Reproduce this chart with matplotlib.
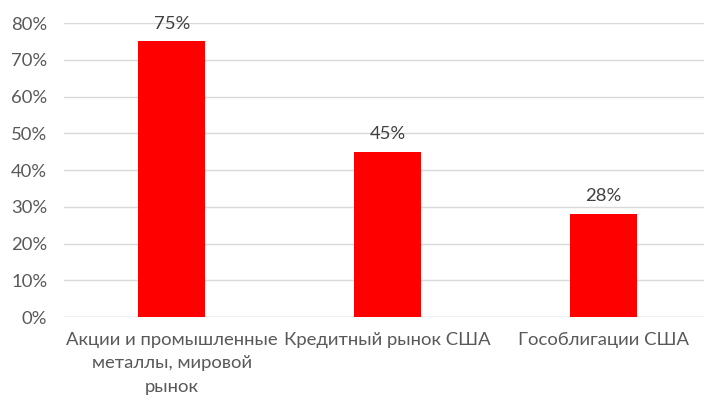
import matplotlib
matplotlib.use("Agg")
import matplotlib.pyplot as plt
from matplotlib.ticker import FuncFormatter

categories = ["Акции и промышленные\nметаллы, мировой\nрынок", "Кредитный рынок США", "Гособлигации США"]
values = [75, 45, 28]
yticks = [0, 10, 20, 30, 40, 50, 60, 70, 80]

plt.rcParams['font.family'] = ['Lato', 'DejaVu Sans']
fig = plt.figure(figsize=(7.04, 4.01), dpi=100)
ax = fig.add_axes([64/704, (401-317)/401, 647/704, (317-23)/401])

x = range(len(categories))
bars = ax.bar(x, values, width=0.31, color="#FF0000", zorder=3)
ax.set_xlim(-0.5, len(categories) - 0.5)
ax.set_ylim(0, 80)
ax.set_yticks(yticks)
ax.yaxis.set_major_formatter(FuncFormatter(lambda v, p: f"{v:.0f}%"))
ax.set_xticks(list(x))
ax.set_xticklabels(categories, fontsize=13.3, color="#595959", linespacing=1.55)
ax.tick_params(axis='y', labelsize=13.3, labelcolor="#595959", length=0, pad=12)
ax.tick_params(axis='x', length=0, pad=11)
ax.grid(axis='y', color="#D9D9D9", linewidth=1, zorder=0)
for s in ax.spines.values():
    s.set_visible(False)
ax.axhline(0, color="#D9D9D9", linewidth=1, zorder=1)

for b, v in zip(bars, values):
    ax.annotate(f"{v}%", (b.get_x() + b.get_width()/2, v), xytext=(0, 7),
                textcoords="offset points", ha="center", va="bottom",
                fontsize=13.3, color="#404040")

fig.savefig("out.png", dpi=100)
